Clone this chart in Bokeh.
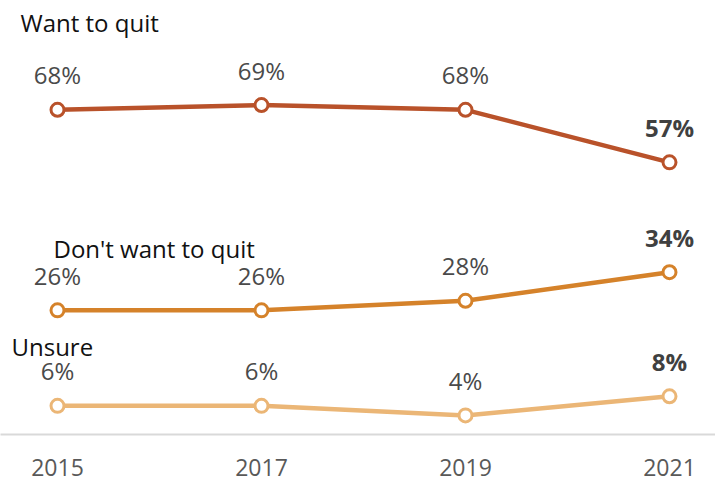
from bokeh.plotting import figure
from bokeh.models import ColumnDataSource, FixedTicker, Range1d
from bokeh.core.properties import value
from bokeh.embed import file_html
from bokeh.resources import INLINE

years = [2015, 2017, 2019, 2021]
want = [68, 69, 68, 57]
dont = [26, 26, 28, 34]
unsure = [6, 6, 4, 8]
series_names = ["Want to quit", "Don't want to quit", "Unsure"]
colors = ["#b9522a", "#d5822a", "#ebb676"]

FONT = "Open Sans"

p = figure(width=715, height=478, output_backend="svg", toolbar_location=None,
           x_range=Range1d(2014.4412, 2021.451), y_range=Range1d(0, 90.9),
           y_axis_location=None, min_border_left=0, min_border_right=0,
           min_border_top=0, min_border_bottom=44)
p.outline_line_color = None
p.xgrid.visible = False
p.ygrid.visible = False
p.background_fill_color = "white"
p.border_fill_color = "white"

ax = p.xaxis[0]
ax.ticker = FixedTicker(ticks=years)
ax.major_tick_line_color = None
ax.minor_tick_line_color = None
ax.axis_line_color = "#d9d9d9"
ax.axis_line_width = 2
ax.major_label_text_font = FONT
ax.major_label_text_font_size = "23px"
ax.major_label_text_color = "#595959"
ax.major_label_standoff = 18

title_offsets = [(-37, -87), (-4, -62), (-46, -59)]

for vals, name, col, (tx, ty) in zip([want, dont, unsure], series_names, colors, title_offsets):
    src = ColumnDataSource(dict(x=years, y=vals))
    p.line("x", "y", source=src, line_color=col, line_width=4.5)
    p.scatter("x", "y", source=src, size=13, fill_color="white", line_color=col, line_width=3)
    n = len(years)
    src_norm = ColumnDataSource(dict(x=years[:n-1], y=vals[:n-1], lab=[f"{v}%" for v in vals[:n-1]]))
    src_bold = ColumnDataSource(dict(x=years[n-1:], y=vals[n-1:], lab=[f"{v}%" for v in vals[n-1:]]))
    p.text("x", "y", text="lab", source=src_norm, text_font=value(FONT), text_font_size="24px",
           text_color="#4a4a4a", text_align="center", text_baseline="alphabetic", y_offset=-35)
    p.text("x", "y", text="lab", source=src_bold, text_font=value(FONT), text_font_size="24px",
           text_font_style="bold", text_color="#404040", text_align="center",
           text_baseline="alphabetic", y_offset=-35)
    tsrc = ColumnDataSource(dict(x=[years[0]], y=[vals[0]], t=[name]))
    p.text("x", "y", text="t", source=tsrc, text_font=value(FONT), text_font_size="24px",
           text_color="#111111", text_align="left", text_baseline="alphabetic",
           x_offset=tx, y_offset=ty)

open("out.html", "w").write(file_html(p, INLINE))
